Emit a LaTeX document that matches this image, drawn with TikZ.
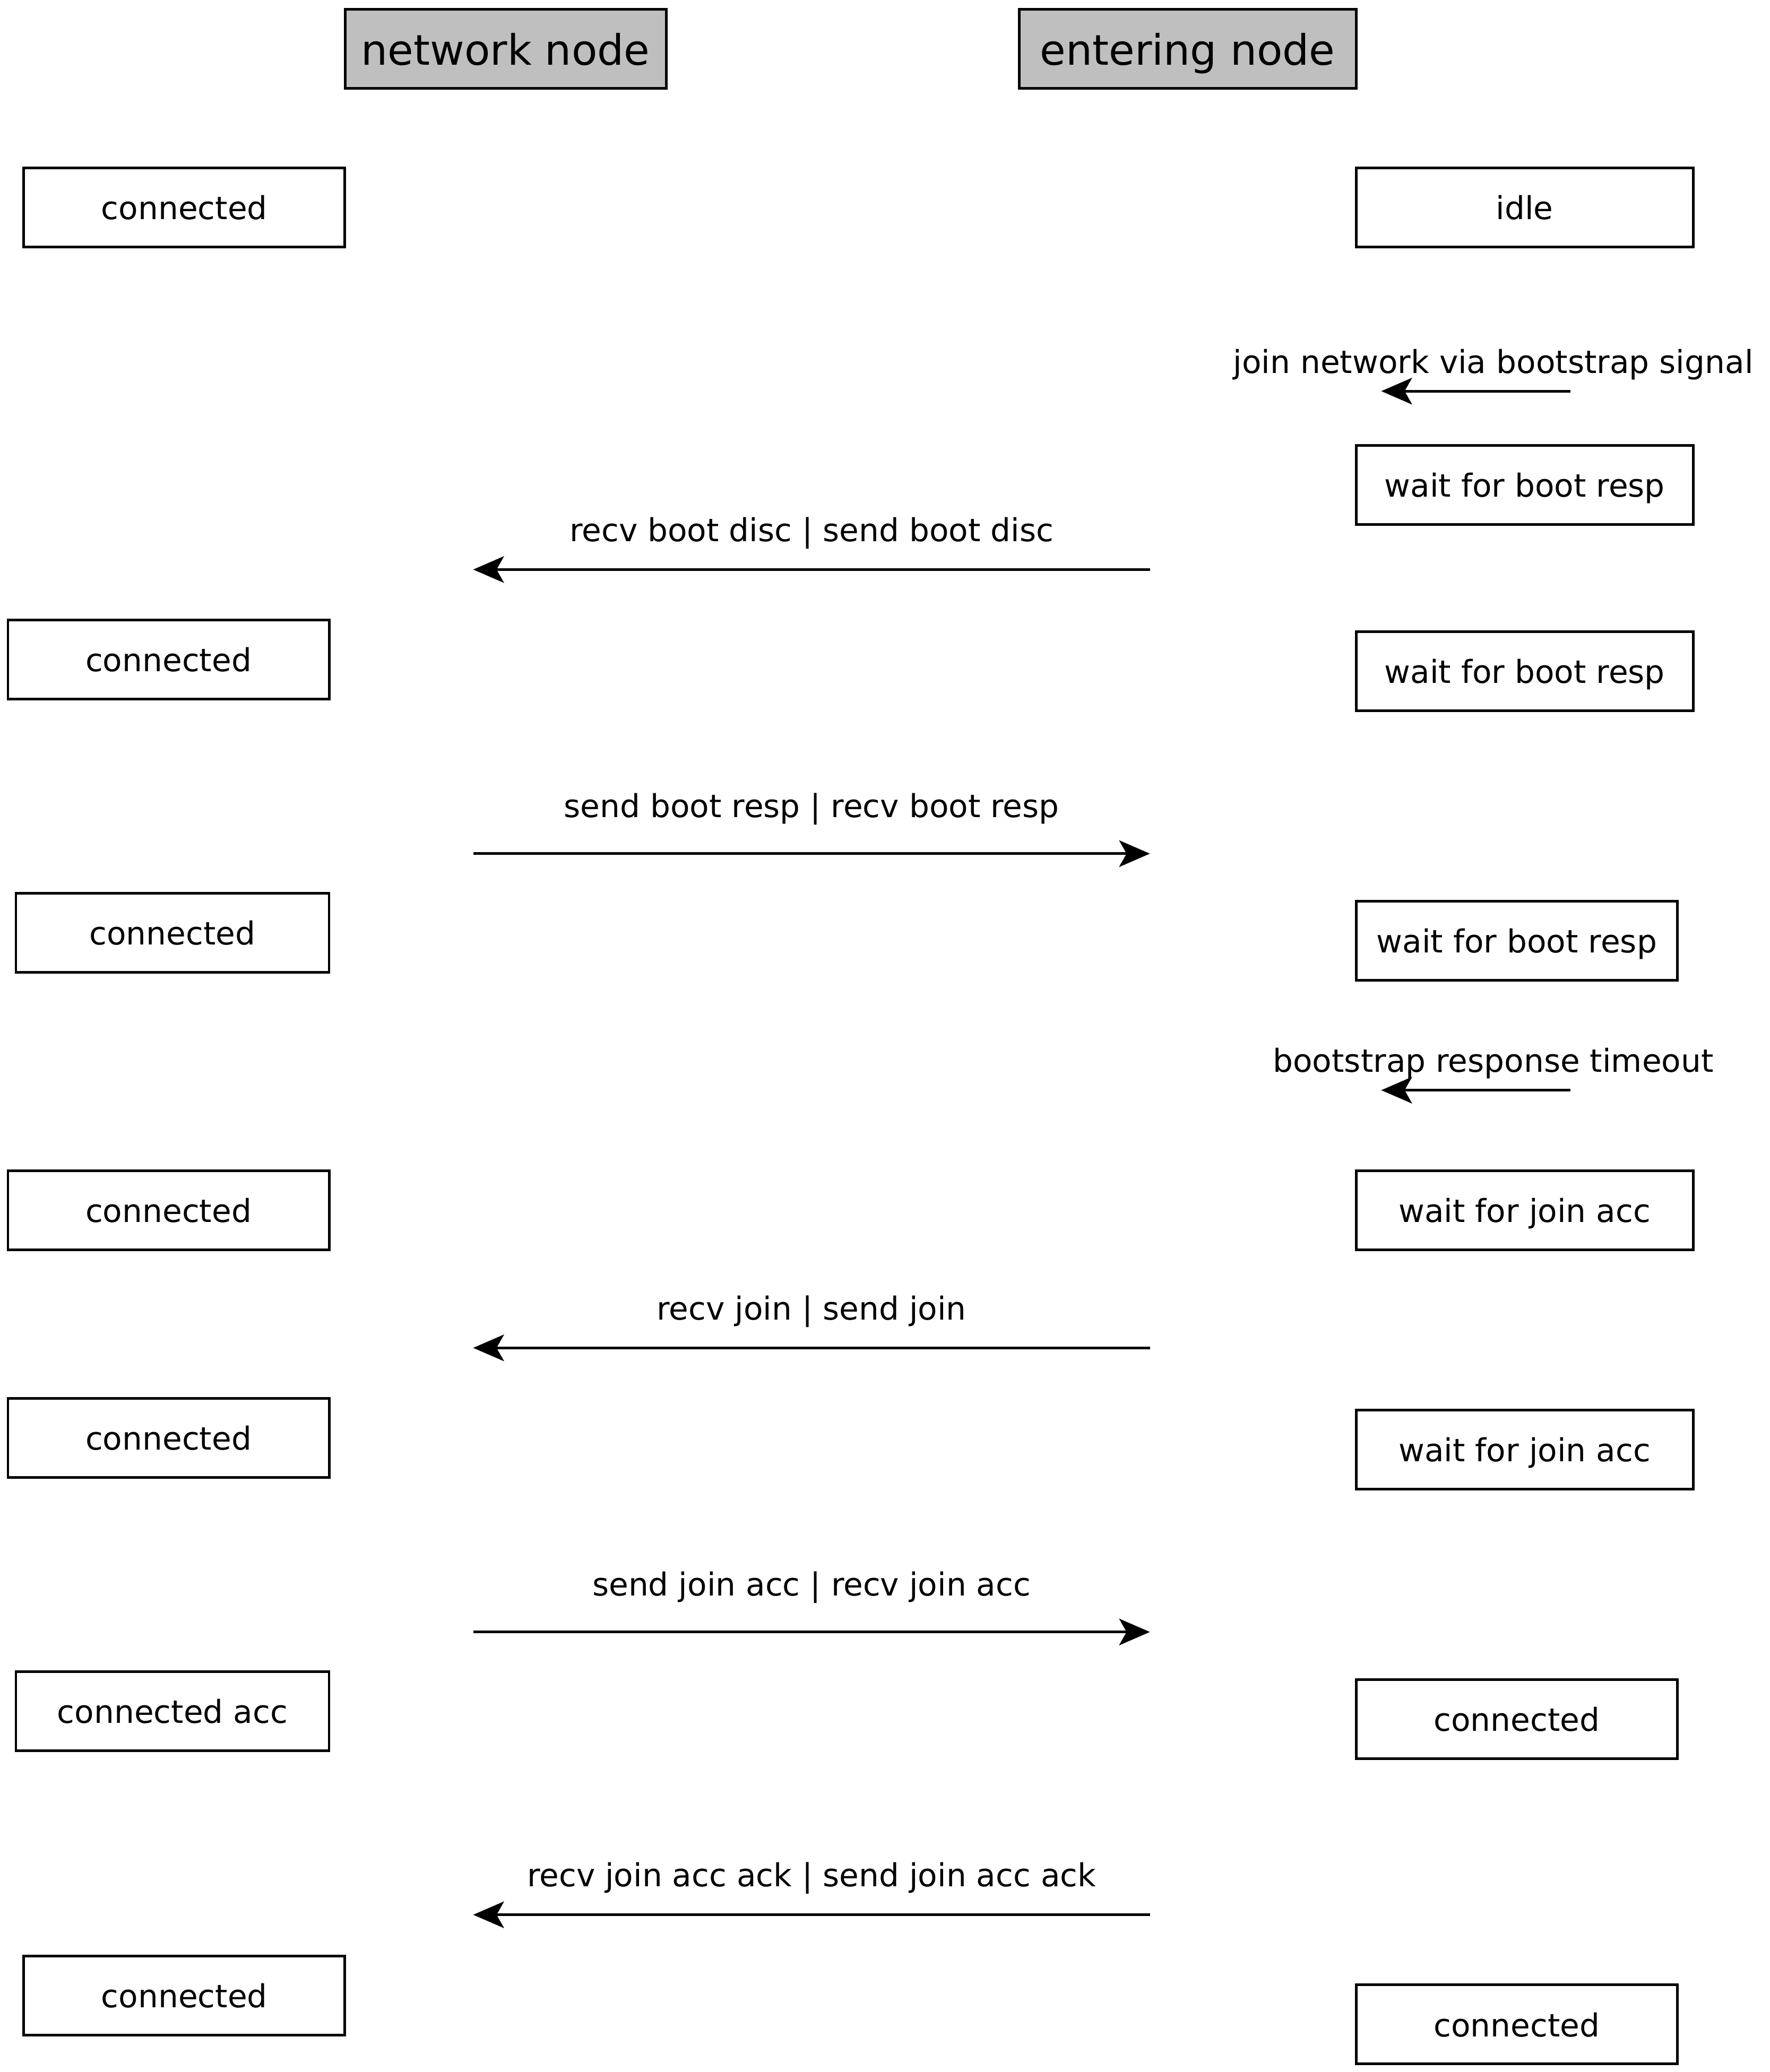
\documentclass[tikz,border=0pt]{standalone}
\usepackage{fontspec}
\setmainfont{DejaVu Sans}
\usetikzlibrary{arrows.meta}

\begin{document}
\begin{tikzpicture}[x = 0.0249cm, y = -0.0249cm, line width = 1.4pt,
	> = {Stealth[length = 0.58cm, width = 0.5cm, inset = 0.14cm]},
	head/.style = {draw, fill = black!25, minimum height = 1.49cm, text depth = 0pt, font = \fontsize{22.5}{27}\selectfont},
	state/.style = {draw, minimum height = 1.49cm, text depth = 0pt, font = \fontsize{17}{20}\selectfont},
	lbl/.style = {anchor = base, font = \fontsize{17}{20}\selectfont},
	note/.style = {anchor = base, yshift = 0.34cm, xshift = 0.33cm, font = \fontsize{17}{20}\selectfont}]

	\useasboundingbox (0, 0) rectangle (1339, 1568);

	% Column headers

	\node [head, minimum width = 6.05cm] (net) at (382.5, 37) {network node};
	\node [head, minimum width = 6.35cm] (ent) at (898.5, 37) {entering node};

	% States of the network node

	\foreach \n/\x/\y/\w/\t in {n1/139.5/157/6.05/connected, n2/127.5/499/6.05/connected,
		n3/130.5/706/5.90/connected, n4/127.5/916/6.05/connected, n5/127.5/1088/6.05/connected,
		n6/130.5/1295/5.90/connected acc, n7/139.5/1510/6.05/connected}
		\node [state, minimum width = \w cm] (\n) at (\x, \y) {\t};

	% States of the entering node

	\foreach \n/\x/\y/\w/\t in {e1/1153.5/157/6.35/idle, e2/1153.5/367/6.35/wait for boot resp,
		e3/1153.5/508/6.35/wait for boot resp, e4/1147.5/712/6.05/wait for boot resp,
		e5/1153.5/916/6.35/wait for join acc, e6/1153.5/1097/6.35/wait for join acc,
		e7/1147.5/1301/6.05/connected, e8/1147.5/1532/6.05/connected}
		\node [state, minimum width = \w cm] (\n) at (\x, \y) {\t};

	% Local events of the entering node

	\foreach \i/\y/\t in {1/296/join network via bootstrap signal, 2/825/bootstrap response timeout}
	{
		\coordinate (t\i a) at (1188, \y);
		\coordinate (t\i b) at (1045, \y);
		\draw [->] (t\i a) -- node [note] {\t} (t\i b);
	}

	% Messages between the nodes (label lifted higher over the rightward ones)

	\foreach \i/\a/\b/\y/\h/\t in {1/870/358/431/0.53/{recv boot disc | send boot disc},
		2/358/870/646/0.68/{send boot resp | recv boot resp},
		3/870/358/1020/0.53/{recv join | send join},
		4/358/870/1235/0.68/{send join acc | recv join acc},
		5/870/358/1449/0.53/{recv join acc ack | send join acc ack}}
	{
		\coordinate (m\i a) at (\a, \y);
		\coordinate (m\i b) at (\b, \y);
		\draw [->] (m\i a) -- node [lbl, yshift = \h cm] {\t} (m\i b);
	}

\end{tikzpicture}
\end{document}
